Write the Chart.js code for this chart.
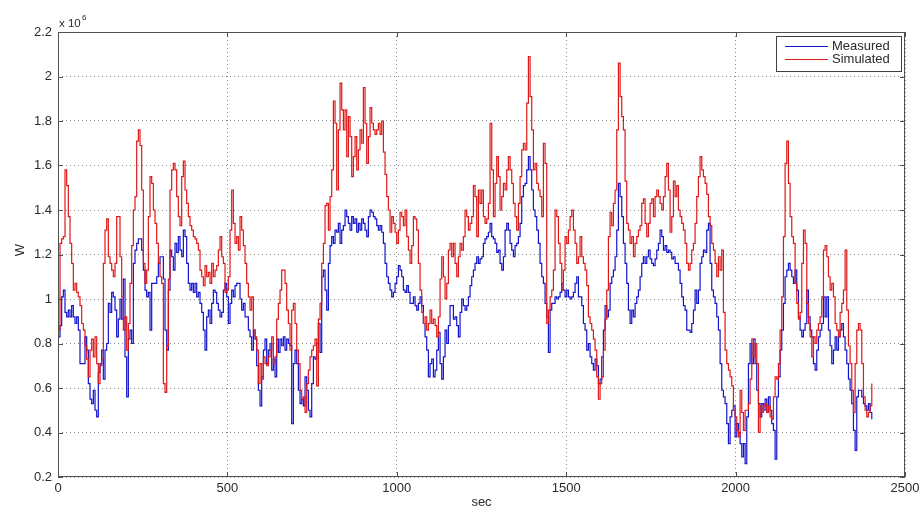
<!DOCTYPE html>
<html>
<head>
<meta charset="utf-8">
<script src="https://cdn.jsdelivr.net/npm/chart.js@4.4.1/dist/chart.umd.min.js"></script>
<style>
  html, body { margin: 0; padding: 0; background: #fff; }
</style>
</head>
<body>
<canvas id="powerChart" width="924" height="513"></canvas>
<script>
// Power in units of 10^6 W, sampled every ~4.9 s from t = 1 s
const t0 = 1;
const dt = 4.92;

const measured = [
  // 0 - 310 s
  0.83,0.88,1.01,1.04,0.94,0.92,0.95,0.92,0.97,0.92,
  0.89,0.92,0.86,0.71,0.71,0.71,0.83,0.77,0.62,0.55,
  0.53,0.59,0.50,0.47,0.67,0.71,0.77,0.64,0.77,0.80,
  0.98,0.94,1.03,1.01,0.95,0.83,0.91,1.00,0.91,1.09,
  0.74,0.56,0.82,0.86,0.80,1.16,1.22,1.25,1.27,1.27,
  1.22,1.13,1.04,1.01,1.03,0.86,1.07,1.07,1.07,1.10,
  1.16,1.19,1.19,1.09,
  // 315 - 620 s
  0.86,0.77,1.04,1.22,1.19,1.13,1.25,1.21,1.28,1.22,
  1.19,1.31,1.28,1.16,1.07,1.04,1.07,1.03,1.07,1.01,
  1.03,0.98,0.94,0.86,0.77,0.92,0.95,0.89,0.98,1.04,
  1.03,0.98,0.95,0.92,0.94,1.04,1.07,1.01,0.89,0.98,
  1.04,1.01,1.06,1.07,1.07,1.00,0.95,0.98,0.92,0.92,
  0.86,0.83,0.77,0.86,0.82,0.70,0.59,0.52,0.65,0.77,
  0.82,0.71,0.77,
  // 625 - 930 s
  0.80,0.68,0.73,0.65,0.82,0.76,0.82,0.79,0.83,0.77,
  0.82,0.80,0.79,0.44,0.71,0.77,0.71,0.59,0.53,0.55,
  0.52,0.65,0.59,0.50,0.47,0.62,0.74,0.73,0.80,0.89,
  0.76,1.10,1.13,1.04,0.95,1.16,1.24,1.28,1.25,1.31,
  1.30,1.34,1.25,1.31,1.33,1.40,1.37,1.34,1.31,1.37,
  1.34,1.36,1.30,1.34,1.31,1.36,1.34,1.31,1.28,1.37,
  1.40,1.39,1.37,
  // 935 - 1240 s
  1.36,1.33,1.31,1.33,1.30,1.25,1.16,1.10,1.07,1.04,
  1.01,1.03,1.07,1.10,1.15,1.13,1.10,1.04,1.03,1.06,
  1.03,0.98,0.98,1.01,0.97,0.95,0.98,1.01,0.97,0.89,
  0.83,0.77,0.65,0.71,0.73,0.65,0.68,0.77,0.85,0.71,
  0.64,0.74,0.86,0.80,0.88,0.97,0.97,0.91,0.92,0.88,
  0.83,0.94,1.00,0.97,0.95,0.97,1.01,1.06,1.10,1.13,
  1.16,1.19,1.16,
  // 1245 - 1550 s
  1.18,1.19,1.25,1.27,1.28,1.30,1.34,1.28,1.27,1.25,
  1.21,1.22,1.16,1.13,1.19,1.31,1.34,1.31,1.25,1.22,
  1.19,1.24,1.25,1.28,1.34,1.46,1.51,1.52,1.58,1.64,
  1.58,1.49,1.40,1.37,1.31,1.25,1.16,1.10,1.07,0.98,
  0.92,0.76,0.95,0.98,0.98,1.01,1.00,1.01,1.03,1.07,
  1.04,1.01,1.04,1.01,1.00,1.01,1.03,1.07,1.10,1.01,
  1.01,0.97,0.89,
  // 1555 - 1860 s
  0.86,0.77,0.80,0.74,0.71,0.68,0.73,0.70,0.62,0.64,
  0.74,0.86,0.97,0.92,0.95,1.07,1.10,1.13,1.19,1.31,
  1.52,1.46,1.37,1.25,1.16,1.07,0.95,0.89,0.95,0.92,
  0.98,1.01,1.04,1.10,1.16,1.19,1.16,1.19,1.22,1.18,
  1.16,1.15,1.18,1.22,1.25,1.31,1.28,1.22,1.24,1.21,
  1.22,1.21,1.18,1.19,1.16,1.16,1.13,1.07,1.01,0.97,
  0.95,0.86,0.86,
  // 1865 - 2170 s
  0.85,0.89,0.95,1.04,0.98,1.04,1.16,1.19,1.22,1.21,
  1.31,1.34,1.16,1.04,1.01,0.98,0.92,0.86,0.71,0.59,
  0.56,0.53,0.44,0.35,0.47,0.50,0.52,0.38,0.44,0.40,
  0.35,0.29,0.35,0.26,0.47,0.71,0.80,0.71,0.82,0.71,
  0.59,0.53,0.47,0.53,0.50,0.55,0.49,0.56,0.50,0.44,
  0.41,0.28,0.56,0.65,0.77,0.86,0.98,1.10,1.13,1.16,
  1.13,1.10,1.07,
  // 2175 - 2400 s
  1.13,1.04,0.92,0.86,0.83,0.86,0.89,1.04,0.92,0.86,
  0.83,0.71,0.68,0.77,0.83,0.86,0.89,1.01,0.92,1.01,
  0.86,0.79,0.71,0.77,0.83,0.77,0.83,0.86,0.89,0.83,
  0.77,0.71,0.64,0.59,0.53,0.41,0.32,0.56,0.59,0.59,
  0.56,0.53,0.52,0.50,0.53,0.49,0.46
];

const simulated = [
  // 0 - 310 s
  0.86,1.25,1.27,1.28,1.58,1.51,1.37,1.25,1.16,1.04,
  1.07,1.03,1.01,0.97,0.89,0.86,0.79,0.73,0.65,0.77,
  0.82,0.74,0.83,0.71,0.62,0.70,0.73,1.16,1.31,1.36,
  1.19,1.16,1.13,1.10,1.16,1.37,1.37,1.19,1.01,0.86,
  0.92,0.77,0.89,1.07,1.24,1.40,1.46,1.71,1.76,1.69,
  1.49,1.16,1.07,1.13,1.37,1.55,1.52,1.40,1.34,1.25,
  1.16,1.10,1.07,0.62,
  // 315 - 620 s
  0.58,0.79,1.09,1.49,1.58,1.61,1.58,1.46,1.37,1.33,
  1.55,1.62,1.49,1.43,1.37,1.33,1.31,1.28,1.27,1.25,
  1.22,1.13,1.10,1.06,1.15,1.10,1.12,1.07,1.16,1.10,
  1.13,1.15,1.22,1.28,1.19,1.16,1.03,1.04,1.10,1.31,
  1.49,1.34,1.25,1.28,1.22,1.37,1.31,1.24,1.16,1.07,
  1.01,0.95,1.01,0.86,0.83,0.77,0.62,0.71,0.64,0.74,
  0.71,0.70,0.74,
  // 625 - 930 s
  0.77,0.83,0.71,0.74,0.91,0.98,1.04,1.13,1.13,1.07,
  0.95,0.89,0.77,0.95,0.98,0.89,0.77,0.71,0.59,0.55,
  0.56,0.49,0.62,0.68,0.74,0.77,0.79,0.82,0.61,0.91,
  0.98,1.16,1.25,1.42,1.43,1.31,1.46,1.58,1.89,1.79,
  1.49,1.76,1.97,1.85,1.76,1.85,1.64,1.82,1.73,1.55,
  1.64,1.73,1.58,1.67,1.76,1.70,1.95,1.79,1.61,1.73,
  1.86,1.79,1.76,
  // 935 - 1240 s
  1.74,1.76,1.79,1.74,1.80,1.66,1.56,1.46,1.40,1.30,
  1.37,1.34,1.30,1.25,1.31,1.39,1.37,1.33,1.40,1.28,
  1.22,1.16,1.24,1.37,1.36,1.31,1.16,1.04,0.94,0.89,
  0.92,0.86,0.89,0.95,0.89,0.91,0.88,0.83,0.92,1.09,
  1.19,1.10,1.00,1.07,1.22,1.25,1.19,1.25,1.16,1.10,
  1.19,1.25,1.22,1.28,1.40,1.37,1.31,1.34,1.37,1.51,
  1.46,1.28,1.49,
  // 1245 - 1550 s
  1.43,1.49,1.37,1.34,1.36,1.43,1.79,1.58,1.37,1.52,
  1.64,1.55,1.40,1.46,1.52,1.49,1.58,1.64,1.58,1.52,
  1.43,1.37,1.31,1.43,1.55,1.67,1.70,1.67,1.88,2.09,
  1.91,1.76,1.58,1.61,1.52,1.49,1.46,1.37,1.70,1.61,
  0.89,0.95,1.01,1.04,1.13,1.40,1.37,1.25,1.16,1.04,
  1.13,1.28,1.25,1.31,1.37,1.40,1.31,1.25,1.16,1.19,
  1.28,1.19,1.16,
  // 1555 - 1860 s
  1.13,1.06,0.92,0.89,0.86,0.82,0.77,0.65,0.55,0.62,
  0.65,0.77,0.91,1.04,1.28,1.39,1.33,1.43,1.49,1.76,
  2.06,1.91,1.82,1.76,1.53,1.34,1.31,1.25,1.28,1.19,
  1.25,1.28,1.31,1.33,1.43,1.45,1.34,1.28,1.34,1.43,
  1.45,1.37,1.46,1.49,1.46,1.43,1.40,1.46,1.55,1.61,
  1.49,1.30,1.37,1.53,1.46,1.51,1.40,1.37,1.34,1.31,
  1.25,1.16,1.13,
  // 1865 - 2170 s
  1.16,1.22,1.25,1.34,1.46,1.55,1.64,1.58,1.55,1.52,
  1.47,1.37,1.33,1.25,1.22,1.16,1.10,1.19,1.13,1.22,
  0.94,0.77,0.71,0.68,0.65,0.61,0.50,0.47,0.41,0.38,
  0.59,0.49,0.41,0.50,0.50,0.53,0.64,0.82,0.74,0.80,
  0.71,0.40,0.52,0.49,0.52,0.53,0.49,0.52,0.47,0.46,
  0.56,0.65,0.64,0.71,0.86,1.01,1.28,1.61,1.71,1.52,
  1.37,1.28,1.25,
  // 2175 - 2400 s
  1.07,0.98,0.91,0.94,1.16,1.31,1.25,0.98,0.89,0.83,
  0.74,0.83,0.80,0.86,0.89,0.92,1.01,1.22,1.24,1.19,
  1.10,1.04,1.07,1.01,0.89,0.86,0.83,0.94,0.98,1.04,
  1.22,0.95,0.79,0.71,0.59,0.49,0.71,0.86,0.89,0.86,
  0.71,0.56,0.50,0.47,0.49,0.52,0.62
];

const xTicks = [0, 500, 1000, 1500, 2000, 2500];
const yTicks = [0.2, 0.4, 0.6, 0.8, 1.0, 1.2, 1.4, 1.6, 1.8, 2.0, 2.2];
const seriesNames = ['Measured', 'Simulated'];
const seriesColors = ['#1414cc', '#e01818'];

const secs = measured.map((_, i) => t0 + i * dt);
const toPoints = vals => vals.map((v, i) => ({ x: secs[i], y: v }));

const FONT = '"Liberation Sans", Arial, sans-serif';
const TEXT = '#2a2a2a';

// axes box, inward tick marks, labels and the boxed legend
const matlabFrame = {
  id: 'matlabFrame',
  afterDatasetsDraw(chart) {
    const { ctx, chartArea: a, scales: { x, y } } = chart;
    ctx.save();
    ctx.strokeStyle = '#505050';
    ctx.lineWidth = 1;
    ctx.strokeRect(a.left + 0.5, a.top + 0.5, a.width - 1, a.height - 1);

    ctx.beginPath();
    xTicks.forEach(v => {
      const px = Math.round(x.getPixelForValue(v)) + 0.5;
      ctx.moveTo(px, a.bottom); ctx.lineTo(px, a.bottom - 5);
      ctx.moveTo(px, a.top); ctx.lineTo(px, a.top + 5);
    });
    yTicks.forEach(v => {
      const py = Math.round(y.getPixelForValue(v)) + 0.5;
      ctx.moveTo(a.left, py); ctx.lineTo(a.left + 5, py);
      ctx.moveTo(a.right, py); ctx.lineTo(a.right - 5, py);
    });
    ctx.stroke();

    // exponent label above the y axis
    ctx.fillStyle = TEXT;
    ctx.textBaseline = 'alphabetic';
    ctx.textAlign = 'left';
    ctx.font = '11.5px ' + FONT;
    ctx.fillText('x 10', a.left + 1, 27);
    ctx.font = '8px ' + FONT;
    ctx.fillText('6', a.left + 24, 20);

    // axis titles
    ctx.font = '13px ' + FONT;
    ctx.textAlign = 'center';
    ctx.textBaseline = 'middle';
    ctx.fillText('sec', (a.left + a.right) / 2, 502);
    ctx.save();
    ctx.translate(20, 250);
    ctx.rotate(-Math.PI / 2);
    ctx.fillText('W', 0, 0);
    ctx.restore();

    // legend
    const lx = 776, ly = 36, lw = 125, lh = 35;
    ctx.fillStyle = '#fff';
    ctx.fillRect(lx, ly, lw, lh);
    ctx.strokeStyle = '#404040';
    ctx.strokeRect(lx + 0.5, ly + 0.5, lw, lh);
    ctx.textAlign = 'left';
    ctx.font = '13px ' + FONT;
    seriesNames.forEach((name, i) => {
      const ry = ly + 10.5 + i * 13;
      ctx.strokeStyle = seriesColors[i];
      ctx.beginPath();
      ctx.moveTo(785, ry);
      ctx.lineTo(828, ry);
      ctx.stroke();
      ctx.fillStyle = TEXT;
      ctx.fillText(name, 832, ry);
    });
    ctx.restore();
  }
};

const ctx = document.getElementById('powerChart').getContext('2d');
new Chart(ctx, {
  type: 'line',
  data: {
    datasets: [
      {
        label: seriesNames[0],
        data: toPoints(measured),
        borderColor: seriesColors[0],
        borderWidth: 1.2,
        pointRadius: 0,
        stepped: true,
        order: 1
      },
      {
        label: seriesNames[1],
        data: toPoints(simulated),
        borderColor: seriesColors[1],
        borderWidth: 1.2,
        pointRadius: 0,
        stepped: true,
        order: 0
      }
    ]
  },
  options: {
    responsive: false,
    animation: false,
    events: [],
    layout: { padding: { top: 32, right: 19, left: 0, bottom: 0 } },
    plugins: { legend: { display: false }, tooltip: { enabled: false } },
    scales: {
      x: {
        type: 'linear',
        min: 0,
        max: 2500,
        afterFit: s => { s.height = 36; },
        afterBuildTicks: s => { s.ticks = xTicks.map(v => ({ value: v })); },
        ticks: {
          padding: 4,
          maxRotation: 0,
          autoSkip: false,
          color: TEXT,
          font: { family: FONT, size: 13 },
          callback: v => String(v)
        },
        grid: { color: '#8c8c8c', drawTicks: false, lineWidth: 1 },
        border: { display: false, dash: [1, 3] }
      },
      y: {
        min: 0.2,
        max: 2.2,
        afterFit: s => { s.width = 58; },
        afterBuildTicks: s => { s.ticks = yTicks.map(v => ({ value: v })); },
        ticks: {
          padding: 6,
          color: TEXT,
          font: { family: FONT, size: 13 },
          callback: v => String(Number(v.toFixed(1)))
        },
        grid: { color: '#8c8c8c', drawTicks: false, lineWidth: 1 },
        border: { display: false, dash: [1, 3] }
      }
    }
  },
  plugins: [matlabFrame]
});
</script>
</body>
</html>
